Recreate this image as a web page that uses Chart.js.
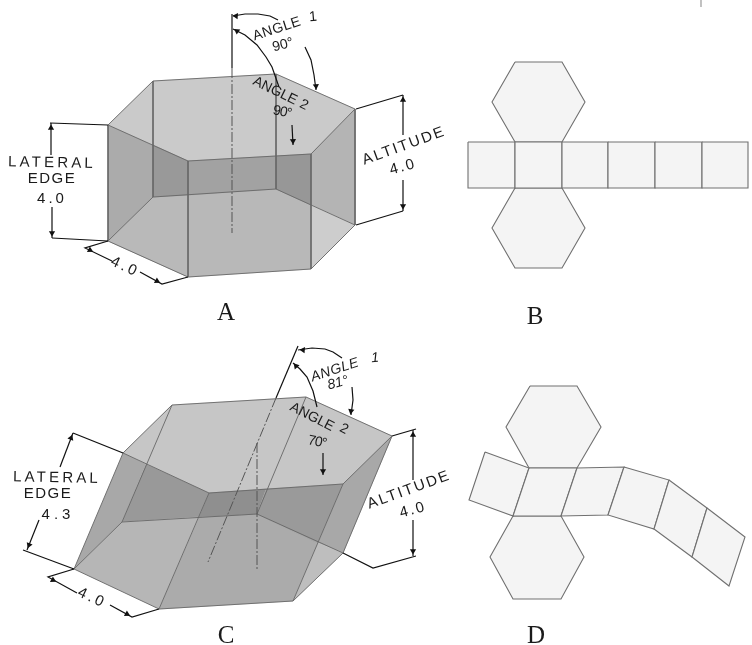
<!DOCTYPE html>
<html>
<head>
<meta charset="utf-8">
<style>
  html, body { margin: 0; padding: 0; background: #fff; }
  canvas { display: block; }
</style>
<script src="https://cdn.jsdelivr.net/npm/chart.js@4/dist/chart.umd.js"></script>
</head>
<body>
<canvas id="myChart" width="752" height="645"></canvas>
<script>
// prism A shaded regions
const aTop = [[108,125],[153,81],[276,74],[355,109],[311,154],[188,161]]
const aLeftWall = [[108,125],[188,161],[188,277],[108,241]]
const aLeftInner = [[153,145],[188,161],[188,195],[153,197]]
const aLeftLow = [[108,241],[153,197],[188,195],[188,277]]
const aFront = [[188,161],[311,154],[311,269],[188,277]]
const aBandLeft = [[188,161],[276,156],[276,189],[188,195]]
const aBandRight = [[276,156],[311,154],[311,205],[276,189]]
const aRightWall = [[311,154],[355,109],[355,225],[311,205]]
const aRightLow = [[311,205],[355,225],[311,269]]

// prism C shaded regions
const cTop = [[123,453],[172,405],[306,397],[392,436],[343,484],[209,493]]
const cLeftWall = [[123,453],[146,464],[122,522],[74,569]]
const cLeftInner = [[146,464],[209,493],[199,517],[122,522]]
const cLeftLow = [[74,569],[122,522],[199,517],[159,609]]
const cFrontLow = [[199,517],[257,514],[318,543],[293,601],[159,609]]
const cBandMid = [[209,493],[266,489],[257,514],[199,517]]
const cBandRight = [[266,489],[343,484],[318,543],[257,514]]
const cRightWall = [[343,484],[392,436],[343,553],[318,543]]
const cRightLow = [[318,543],[343,553],[293,601]]

// prism edges
const aEdges = [
  [[108,125],[153,81],[276,74],[355,109],[311,154],[188,161],[108,125]],
  [[108,241],[188,277],[311,269],[355,225],[276,189],[153,197],[108,241]],
  [[108,125],[108,241]], [[188,161],[188,277]], [[311,154],[311,269]], [[355,109],[355,225]],
  [[153,81],[153,197]], [[276,74],[276,189]]
]
const cEdges = [
  [[123,453],[172,405],[306,397],[392,436],[343,484],[209,493],[123,453]],
  [[74,569],[159,609],[293,601],[343,553],[257,514],[122,522],[74,569]],
  [[123,453],[74,569]], [[209,493],[159,609]], [[343,484],[293,601]], [[392,436],[343,553]],
  [[172,405],[122,522]], [[306,397],[257,514]]
]

// dimension and angle lines
const dimLines = [
  [[50,123],[108,125]], [[52,238],[108,241]], [[51,123],[51,155]], [[52,207],[52,238]],
  [[108,241],[85,248],[112,261]], [[140,272],[162,284],[188,277]],
  [[356,109],[403,95]], [[356,225],[403,211]], [[403,95],[403,135]], [[403,180],[403,211]],
  [[232,14],[232,68]],
  [[278,20],[270,16],[258,14],[245,14],[233,16]],
  [[305,47],[311,60],[314,75],[316,90]],
  [[233,29],[245,35],[257,45],[266,57],[272,67],[279,87]],
  [[292,125],[293,145]],
  [[73,433],[123,453]], [[23,550],[74,569]], [[73,433],[60,467]], [[39,520],[27,550]],
  [[74,569],[48,577],[77,593]], [[110,605],[132,617],[159,609]],
  [[392,436],[416,429]], [[343,553],[373,568],[416,556]], [[413,430],[413,480]], [[413,520],[413,556]],
  [[298,346],[276,398]],
  [[342,358],[333,352],[325,349],[312,348],[298,350]],
  [[352,387],[353,400],[351,415]],
  [[293,363],[300,369],[307,377],[313,391],[317,407]],
  [[323,453],[323,475]]
]
const dashLines = [
  [[232,68],[232,233]],
  [[276,398],[208,562]],
  [[257,443],[257,570]]
]
// x, y, rotation of each arrow head
const arrowHeads = [
  [51,128,0],[52,233,180],[236,16,-85],[316,86,175],[237,31,-55],[293,141,178],
  [403,100,0],[403,206,180],
  [71,438,22],[29,545,202],[303,350,-85],[351,411,190],[296,366,-40],[323,471,180],
  [413,435,0],[413,551,180],[90,250,118],[157,281,118],[53,580,118],[127,614,118]
]

// flat nets
const bHexTop = [[515,62],[562,62],[585,102],[562,142],[515,142],[492,102]]
const bHexLow = [[515,188],[562,188],[585,228],[562,268],[515,268],[492,228]]
const bSquares = [
  [[468,142],[515,142],[515,188],[468,188]], [[515,142],[562,142],[562,188],[515,188]],
  [[562,142],[608,142],[608,188],[562,188]], [[608,142],[655,142],[655,188],[608,188]],
  [[655,142],[702,142],[702,188],[655,188]], [[702,142],[748,142],[748,188],[702,188]]
]
const dHexTop = [[530,386],[577,386],[601,427],[577,468],[529,468],[506,427]]
const dHexLow = [[513,516],[561,516],[584,557],[561,599],[513,599],[490,557]]
const dSquares = [
  [[485,452],[529,468],[513,516],[469,500]], [[529,468],[577,468],[561,516],[513,516]],
  [[577,468],[624,467],[608,515],[561,516]], [[624,467],[669,480],[654,529],[608,515]],
  [[669,480],[707,508],[692,557],[654,529]], [[707,508],[745,537],[729,586],[692,557]]
]
const cornerMark = [[701,0],[701,7]]

// text, x, y, rotation, letter spacing
const dimLabels = [
  ['LATERAL',52,163,1,3.2], ['EDGE',52,179,0,1.5], ['4.0',52,199,0,3],
  ['ALTITUDE',404,146,-20,2], ['4.0',403,167,-15,2],
  ['4.0',125,267,25,3],
  ['LATERAL',57,478,1,3.2], ['EDGE',48,494,0,1.5], ['4.3',58,515,0,4],
  ['ALTITUDE',409,490,-20,2], ['4.0',413,510,-15,2],
  ['4.0',92,598,25,3]
]
const angleLabels = [
  ['ANGLE',277,29,-18,0.5], ['1',313,17,-5,0], ['90°',283,45,-15,0],
  ['ANGLE',275,91,26,0], ['2',304,105,26,0], ['90°',282,112,12,-1],
  ['ANGLE',312,417,27,0], ['2',344,429,27,0], ['70°',317,442,12,-1]
]
const italicLabels = [
  ['ANGLE',335,370,-18,0.5], ['1',375,358,-5,0], ['81°',338,383,-15,0]
]
const panelLabels = [['A',226,313,0,0],['B',535,317,0,0],['C',226,636,0,0],['D',536,636,0,0]]

const toPoints = (pts) => pts.map((p) => ({ x: p[0], y: p[1] }))

const shape = (pts, color, line) => ({
  data: toPoints(pts),
  showLine: true,
  fill: 'shape',
  backgroundColor: color,
  borderColor: line || color,
  borderWidth: line ? 1.1 : 0.5,
  pointRadius: 0,
  tension: 0
})
const stroke = (pts, color, width, dash) => ({
  data: toPoints(pts),
  showLine: true,
  fill: false,
  borderColor: color,
  borderWidth: width,
  borderDash: dash || [],
  pointRadius: 0,
  tension: 0
})

const datasets = [
  shape(aTop, '#cacaca'), shape(aLeftWall, '#ababab'), shape(aLeftLow, '#b9b9b9'), shape(aLeftInner, '#999999'),
  shape(aFront, '#b8b8b8'), shape(aBandLeft, '#a2a2a2'), shape(aBandRight, '#979797'),
  shape(aRightWall, '#b4b4b4'), shape(aRightLow, '#cdcdcd'),
  shape(cTop, '#c6c6c6'), shape(cLeftWall, '#a8a8a8'), shape(cLeftInner, '#999999'), shape(cLeftLow, '#b6b6b6'),
  shape(cFrontLow, '#ababab'), shape(cBandMid, '#8f8f8f'), shape(cBandRight, '#9a9a9a'),
  shape(cRightWall, '#a8a8a8'), shape(cRightLow, '#bebebe')
]
aEdges.concat(cEdges).forEach((e) => datasets.push(stroke(e, '#666666', 0.9)))
dimLines.forEach((e) => datasets.push(stroke(e, '#111111', 1.2)))
dashLines.forEach((e) => datasets.push(stroke(e, '#555555', 1, [10, 2, 2, 2])))
const netFill = '#f4f4f4', netLine = '#707070'
;[bHexTop, bHexLow, ...bSquares, dHexTop, dHexLow, ...dSquares].forEach((p) => {
  datasets.push(shape(p.concat([p[0]]), netFill, netLine))
})
datasets.push(stroke(cornerMark, '#999999', 1.2))
datasets.push({
  data: toPoints(arrowHeads),
  showLine: false,
  pointStyle: 'triangle',
  pointRadius: 3.6,
  pointRotation: arrowHeads.map((a) => a[2]),
  backgroundColor: '#111111',
  borderColor: '#111111',
  borderWidth: 0
})
// chart.js paints the first dataset last, so flip the list
datasets.reverse()

const drawLabels = {
  id: 'drawLabels',
  afterDatasetsDraw(chart) {
    const { ctx, scales } = chart
    const put = (list, font) => {
      list.forEach((l) => {
        ctx.save()
        ctx.translate(scales.x.getPixelForValue(l[1]), scales.y.getPixelForValue(l[2]))
        ctx.rotate(l[3] * Math.PI / 180)
        ctx.font = font
        ctx.letterSpacing = l[4] + 'px'
        ctx.fillStyle = '#1a1a1a'
        ctx.textAlign = 'center'
        ctx.textBaseline = 'middle'
        ctx.fillText(l[0], 0, 0)
        ctx.restore()
      })
    }
    put(dimLabels, '15px "Liberation Sans"')
    put(angleLabels, '14px "Liberation Sans"')
    put(italicLabels, 'italic 14px "Liberation Sans"')
    put(panelLabels, '25px "Liberation Serif"')
  }
}

const config = {
  type: 'scatter',
  data: { datasets },
  plugins: [drawLabels],
  options: {
    responsive: false,
    animation: false,
    layout: { padding: 0, autoPadding: false },
    scales: {
      x: { type: 'linear', display: false, min: 0, max: 752 },
      y: { type: 'linear', display: false, min: 0, max: 645, reverse: true }
    },
    plugins: {
      legend: { display: false },
      tooltip: { enabled: false },
      title: { display: false }
    }
  }
}
const myChart = new Chart(document.getElementById('myChart'), config)
</script>
</body>
</html>
